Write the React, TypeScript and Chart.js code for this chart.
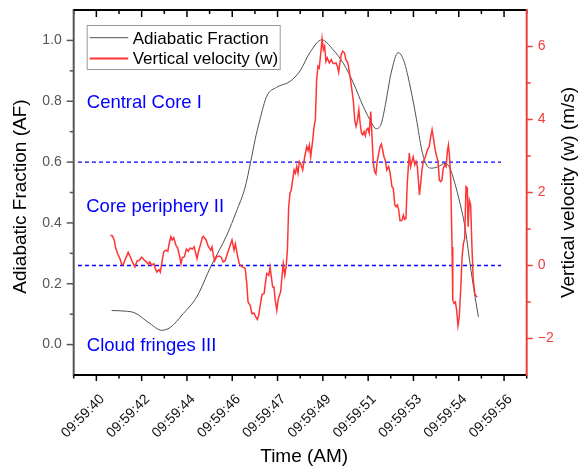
import React, { useEffect, useRef } from 'react';
import { Chart, registerables } from 'chart.js';

Chart.register(...registerables);

const FONT = '"Liberation Sans", Arial, sans-serif';

// Time axis (seconds after 09:59:00)
const timeRange = [39.525, 57.025];
const timeTickValues = [40.4, 42.15, 43.9, 45.65, 47.4, 49.15, 50.9, 52.65, 54.4, 56.15];
const timeTickLabels = [
  '09:59:40', '09:59:42', '09:59:44', '09:59:46', '09:59:47',
  '09:59:49', '09:59:51', '09:59:53', '09:59:54', '09:59:56',
];

// Adiabatic fraction axis
const afRange = [-0.1, 1.1];
const afTicks = [0, 0.2, 0.4, 0.6, 0.8, 1.0];
const afMinorTicks = [0.1, 0.3, 0.5, 0.7, 0.9];

// Vertical velocity axis
const wRange = [-3, 7];
const wTicks = [-2, 0, 2, 4, 6];
const wMinorTicks = [-1, 1, 3, 5];

// Adiabatic fraction profile
const afTimes = [
  40.99, 41.51, 41.89, 42.47, 42.92, 43.25, 43.76, 44.28, 44.83, 45.44,
  45.82, 46.14, 46.36, 46.53, 46.72, 46.98, 47.37, 47.88, 48.27, 48.65,
  49.11, 49.55, 49.94, 50.33, 50.71, 51.04, 51.2, 51.4, 51.59, 51.78,
  52.06, 52.29, 52.52, 52.77, 52.97, 53.16, 53.35, 53.61, 53.87, 54.06,
  54.25, 54.45, 54.64, 54.83, 55.03, 55.16,
];
const afValues = [
  0.112, 0.11, 0.104, 0.069, 0.047, 0.056, 0.102, 0.157, 0.258, 0.36,
  0.44, 0.515, 0.6, 0.673, 0.74, 0.816, 0.846, 0.865, 0.9, 0.96,
  1.002, 0.969, 0.925, 0.86, 0.783, 0.728, 0.71, 0.725, 0.8, 0.89,
  0.96, 0.93, 0.85, 0.739, 0.64, 0.59, 0.58, 0.585, 0.596, 0.58,
  0.53, 0.464, 0.387, 0.27, 0.157, 0.091,
];

// Vertical velocity record (m/s)
const wTimes = [
  40.94, 41.02, 41.09, 41.15, 41.22, 41.31, 41.38, 41.44, 41.53, 41.63,
  41.71, 41.79, 41.89, 41.97, 42.07, 42.15, 42.25, 42.33, 42.41, 42.46,
  42.54, 42.62, 42.67, 42.74, 42.82, 42.87, 42.92, 43.0, 43.08, 43.16,
  43.23, 43.28, 43.33, 43.39, 43.47, 43.54, 43.62, 43.67, 43.72, 43.8,
  43.88, 43.95, 44.03, 44.11, 44.18, 44.24, 44.29, 44.34, 44.42, 44.49,
  44.53, 44.64, 44.72, 44.82, 44.87, 44.92, 44.97, 45.05, 45.15, 45.23,
  45.3, 45.38, 45.46, 45.56, 45.64, 45.72, 45.77, 45.85, 45.92, 46.0,
  46.08, 46.15, 46.21, 46.26, 46.34, 46.41, 46.49, 46.57, 46.62, 46.67,
  46.72, 46.8, 46.88, 46.93, 46.98, 47.06, 47.11, 47.16, 47.21, 47.26,
  47.31, 47.37, 47.42, 47.47, 47.52, 47.57, 47.62, 47.68, 47.73, 47.78,
  47.83, 47.88, 47.93, 47.99, 48.04, 48.09, 48.14, 48.19, 48.24, 48.29,
  48.37, 48.45, 48.53, 48.58, 48.63, 48.68, 48.76, 48.81, 48.86, 48.91,
  48.96, 49.01, 49.07, 49.12, 49.17, 49.22, 49.27, 49.32, 49.4, 49.48,
  49.53, 49.58, 49.66, 49.71, 49.76, 49.81, 49.86, 49.92, 49.99, 50.04,
  50.12, 50.2, 50.28, 50.33, 50.38, 50.43, 50.48, 50.54, 50.59, 50.64,
  50.69, 50.74, 50.79, 50.84, 50.89, 50.94, 51.0, 51.05, 51.1, 51.15,
  51.2, 51.25, 51.31, 51.36, 51.41, 51.46, 51.51, 51.56, 51.62, 51.69,
  51.74, 51.82, 51.87, 51.93, 51.98, 52.03, 52.08, 52.13, 52.21, 52.26,
  52.31, 52.36, 52.41, 52.49, 52.54, 52.59, 52.64, 52.7, 52.75, 52.8,
  52.85, 52.88, 52.93, 52.98, 53.03, 53.11, 53.19, 53.26, 53.32, 53.37,
  53.42, 53.49, 53.55, 53.6, 53.65, 53.7, 53.75, 53.8, 53.86, 53.91,
  53.96, 54.0, 54.04, 54.09, 54.14, 54.17, 54.22, 54.27, 54.32, 54.37,
  54.42, 54.48, 54.53, 54.58, 54.63, 54.68, 54.73, 54.76, 54.81, 54.86,
  54.91, 54.96, 55.02, 55.07, 55.12,
];
const wValues = [
  0.83, 0.81, 0.7, 0.47, 0.33, 0.19, 0.03, 0.03, 0.19, 0.36,
  0.24, 0.1, -0.04, 0.12, 0.15, 0.23, 0.15, 0.1, 0.03, 0.1,
  0.01, 0.05, -0.07, -0.18, -0.11, -0.18, 0.03, 0.37, 0.42, 0.39,
  0.65, 0.79, 0.7, 0.76, 0.56, 0.48, 0.24, 0.05, 0.21, 0.24,
  0.45, 0.39, 0.48, 0.45, 0.51, 0.33, 0.19, 0.37, 0.56, 0.76,
  0.8, 0.7, 0.53, 0.42, 0.51, 0.28, 0.13, 0.24, 0.26, 0.22,
  0.1, 0.13, 0.33, 0.53, 0.7, 0.42, 0.59, 0.28, 0.05, -0.02,
  -0.05, -0.08, -0.49, -1.0, -1.09, -1.32, -1.3, -1.43, -1.48, -1.37,
  -1.14, -0.79, -0.77, -0.49, -0.22, -0.27, -0.04, -0.31, -0.59, -0.59,
  -0.95, -1.23, -0.95, -0.82, -0.72, -0.31, 0.05, -0.27, -0.04, 0.42,
  1.61, 1.98, 2.07, 2.38, 2.62, 2.53, 2.71, 2.53, 2.85, 2.8,
  2.62, 2.98, 3.26, 3.15, 3.3, 2.98, 3.44, 3.81, 3.99, 5.09,
  5.46, 5.41, 5.82, 6.21, 5.91, 6.01, 5.59, 5.69, 5.55, 5.64,
  5.55, 5.53, 5.55, 5.46, 5.29, 5.55, 5.78, 5.87, 5.82, 5.64,
  5.55, 5.18, 4.77, 4.49, 3.99, 3.81, 3.94, 4.27, 3.9, 3.63,
  3.58, 3.67, 3.55, 3.72, 3.76, 3.63, 4.22, 3.53, 2.8, 2.57,
  2.51, 2.85, 3.08, 3.26, 3.33, 3.17, 2.98, 2.89, 2.62, 2.71,
  2.57, 2.16, 2.12, 1.66, 1.61, 1.66, 1.52, 1.23, 1.24, 1.38,
  1.26, 1.29, 2.25, 3.08, 2.71, 2.85, 2.98, 2.76, 2.85, 2.71,
  2.25, 1.93, 2.25, 2.62, 2.85, 2.98, 3.17, 3.26, 3.53, 3.72,
  3.49, 3.17, 2.98, 2.85, 2.34, 2.3, 2.34, 2.66, 2.76, 2.71,
  3.12, 3.3, 3.03, 2.34, 0.51, -0.95, -1.04, -1.0, -1.23, -1.65,
  -1.41, -0.59, 0.24, 0.6, 0.74, 2.16, 2.12, 1.06, 1.79, 1.66,
  0.51, -0.4, -0.77, -0.84, -0.86,
];

// Zone boundaries: AF = 0.6 and w = 0
const zoneSpan = [39.69, 56.03];
const afBoundary = 0.6;
const wBoundary = 0;

// Zone names, anchored at (time, AF)
const zoneNames = ['Central Core I', 'Core periphery II', 'Cloud fringes III'];
const zoneTimes = [40.03, 40.01, 40.03];
const zoneAF = [0.778, 0.437, -0.022];

const seriesNames = ['Adiabatic Fraction', 'Vertical velocity (w)'];
const AF_COLOR = '#505050';
const W_COLOR = '#ff3535';
const W_AXIS_COLOR = '#f03c3c';
const ZONE_COLOR = '#0000ff';

const noEdgePadding = (s: any) => {
  s.paddingTop = 0;
  s.paddingBottom = 0;
  s.paddingLeft = 0;
  s.paddingRight = 0;
};

const decorations = {
  id: 'decorations',
  afterDraw(chart: any) {
    const { ctx, chartArea: a } = chart;
    const sx = chart.scales.x;
    const sy = chart.scales.y;
    const sw = chart.scales.y1;
    ctx.save();
    ctx.setLineDash([]);

    const seg = (x1: number, y1: number, x2: number, y2: number, color: string, w: number) => {
      ctx.beginPath();
      ctx.strokeStyle = color;
      ctx.lineWidth = w;
      ctx.moveTo(x1, y1);
      ctx.lineTo(x2, y2);
      ctx.stroke();
    };

    // time ticks: majors plus half-step minors
    const half = (timeTickValues[1] - timeTickValues[0]) / 2;
    const minors = [timeTickValues[0] - half, ...timeTickValues.map((v) => v + half)];
    timeTickValues.forEach((v) => {
      const p = sx.getPixelForValue(v);
      seg(p, a.bottom, p, a.bottom + 6, '#000', 1.5);
      seg(p, a.top, p, a.top + 7, '#000', 1.5);
    });
    minors.forEach((v) => {
      const p = sx.getPixelForValue(v);
      seg(p, a.bottom, p, a.bottom + 3.5, '#000', 1.5);
      seg(p, a.top, p, a.top + 4, '#000', 1.5);
    });

    // AF ticks
    afTicks.forEach((v) => {
      const p = sy.getPixelForValue(v);
      seg(a.left - 7, p, a.left, p, '#555', 1.5);
    });
    afMinorTicks.forEach((v) => {
      const p = sy.getPixelForValue(v);
      seg(a.left - 4, p, a.left, p, '#555', 1.5);
    });

    // w ticks
    wTicks.forEach((v) => {
      const p = sw.getPixelForValue(v);
      seg(a.right, p, a.right + 6, p, W_AXIS_COLOR, 1.5);
    });
    wMinorTicks.forEach((v) => {
      const p = sw.getPixelForValue(v);
      seg(a.right, p, a.right + 4, p, W_AXIS_COLOR, 1.5);
    });

    // axis lines
    seg(a.left, a.top - 1, a.left, a.bottom + 1, '#555', 2);
    seg(a.left, a.bottom, a.right, a.bottom, '#000', 2);
    seg(a.left, a.top, a.right, a.top, '#000', 2);
    seg(a.right, a.top - 1, a.right, a.bottom + 1, W_AXIS_COLOR, 2);

    // zone names
    ctx.fillStyle = ZONE_COLOR;
    ctx.font = `18.5px ${FONT}`;
    ctx.textAlign = 'left';
    ctx.textBaseline = 'alphabetic';
    zoneNames.forEach((name, i) => {
      ctx.fillText(name, sx.getPixelForValue(zoneTimes[i]), sy.getPixelForValue(zoneAF[i]));
    });

    // legend
    const lx = a.left + 13;
    const ly = a.top + 15;
    ctx.fillStyle = '#fff';
    ctx.fillRect(lx, ly, 194, 45);
    ctx.strokeStyle = '#9a9a9a';
    ctx.lineWidth = 1;
    ctx.strokeRect(lx + 0.5, ly + 0.5, 193, 44);
    seg(lx + 3, ly + 12.7, lx + 41.5, ly + 12.7, AF_COLOR, 1);
    seg(lx + 3, ly + 33.5, lx + 41.5, ly + 33.5, W_COLOR, 2);
    ctx.fillStyle = '#000';
    ctx.font = `17px ${FONT}`;
    ctx.fillText(seriesNames[0], lx + 46, ly + 18.5);
    ctx.fillText(seriesNames[1], lx + 46, ly + 39.3);

    // axis titles
    ctx.font = `19px ${FONT}`;
    ctx.textAlign = 'center';
    ctx.textBaseline = 'middle';
    ctx.fillText('Time (AM)', (a.left + a.right) / 2 + 4, 457);
    ctx.save();
    ctx.translate(20.7, (a.top + a.bottom) / 2 + 4);
    ctx.rotate(-Math.PI / 2);
    ctx.fillText('Adiabatic Fraction (AF)', 0, 0);
    ctx.restore();
    ctx.save();
    ctx.translate(569, (a.top + a.bottom) / 2);
    ctx.rotate(-Math.PI / 2);
    ctx.fillText('Vertical velocity (w) (m/s)', 0, 0);
    ctx.restore();

    ctx.restore();
  },
};

export default function App() {
  const canvasRef = useRef<HTMLCanvasElement>(null);

  useEffect(() => {
    const canvas = canvasRef.current;
    if (!canvas) return;
    Chart.defaults.font.family = FONT;

    const boundaryStyle = {
      borderColor: ZONE_COLOR,
      backgroundColor: ZONE_COLOR,
      borderWidth: 1.3,
      borderDash: [4, 3],
      pointRadius: 0,
      fill: false,
    };

    const chart = new Chart(canvas, {
      type: 'line',
      data: {
        datasets: [
          {
            label: seriesNames[1],
            data: wTimes.map((t, i) => ({ x: t, y: wValues[i] })),
            yAxisID: 'y1',
            borderColor: W_COLOR,
            borderWidth: 1.5,
            pointRadius: 0,
            tension: 0,
          },
          {
            label: seriesNames[0],
            data: afTimes.map((t, i) => ({ x: t, y: afValues[i] })),
            yAxisID: 'y',
            borderColor: AF_COLOR,
            borderWidth: 1,
            pointRadius: 0,
            cubicInterpolationMode: 'monotone',
          },
          {
            label: 'AF boundary',
            data: zoneSpan.map((t) => ({ x: t, y: afBoundary })),
            yAxisID: 'y',
            ...boundaryStyle,
          },
          {
            label: 'w boundary',
            data: zoneSpan.map((t) => ({ x: t, y: wBoundary })),
            yAxisID: 'y1',
            ...boundaryStyle,
          },
        ],
      },
      options: {
        animation: false,
        responsive: false,
        devicePixelRatio: 1,
        layout: { padding: { top: 10, left: 0, right: 0, bottom: 0 } },
        plugins: { legend: { display: false }, tooltip: { enabled: false } },
        scales: {
          x: {
            type: 'linear',
            position: 'bottom',
            min: timeRange[0],
            max: timeRange[1],
            grid: { display: false, drawTicks: false },
            border: { display: false },
            ticks: {
              autoSkip: false,
              minRotation: 45,
              maxRotation: 45,
              padding: 16,
              labelOffset: 6,
              color: '#111',
              font: { size: 14, family: FONT },
              callback: (v: any) => {
                const i = timeTickValues.findIndex((t) => Math.abs(t - Number(v)) < 1e-6);
                return i >= 0 ? timeTickLabels[i] : '';
              },
            },
            afterBuildTicks: (s: any) => {
              s.ticks = timeTickValues.map((v) => ({ value: v }));
            },
            afterFit: (s: any) => {
              s.height = 95;
              noEdgePadding(s);
            },
          },
          y: {
            position: 'left',
            min: afRange[0],
            max: afRange[1],
            grid: { display: false, drawTicks: false },
            border: { display: false },
            ticks: {
              padding: 12,
              color: '#555',
              font: { size: 14, family: FONT },
              callback: (v: any) => Number(v).toFixed(1),
            },
            afterBuildTicks: (s: any) => {
              s.ticks = afTicks.map((v) => ({ value: v }));
            },
            afterFit: (s: any) => {
              s.width = 73.7;
              noEdgePadding(s);
            },
          },
          y1: {
            position: 'right',
            min: wRange[0],
            max: wRange[1],
            grid: { display: false, drawTicks: false },
            border: { display: false },
            ticks: {
              padding: 11,
              color: W_AXIS_COLOR,
              font: { size: 14, family: FONT },
              callback: (v: any) => (Number(v) < 0 ? '\u2212' + Math.abs(Number(v)) : String(v)),
            },
            afterBuildTicks: (s: any) => {
              s.ticks = wTicks.map((v) => ({ value: v }));
            },
            afterFit: (s: any) => {
              s.width = 54.3;
              noEdgePadding(s);
            },
          },
        },
      },
      plugins: [decorations],
    });

    return () => chart.destroy();
  }, []);

  return (
    <div style={{ position: 'fixed', left: 0, top: 0, width: 581, height: 470, background: '#fff' }}>
      <canvas ref={canvasRef} width={581} height={470} style={{ display: 'block' }} />
    </div>
  );
}
